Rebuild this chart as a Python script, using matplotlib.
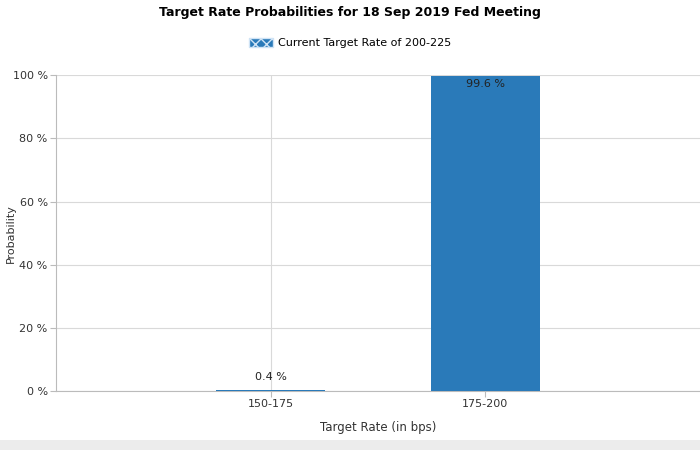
import matplotlib
matplotlib.use('Agg')
import matplotlib.pyplot as plt
from matplotlib.patches import Patch

# data
categories = ['150-175', '175-200']
probabilities = [0.4, 99.6]
labels = ['0.4 %', '99.6 %']
y_ticks = [0, 20, 40, 60, 80, 100]

blue = '#2a7ab9'
grid_c = '#d9d9d9'

fig = plt.figure(figsize=(7, 4.5), dpi=100)
ax = fig.add_axes([0.08, 0.131, 0.92, 0.702])

x = list(range(len(categories)))
ax.bar(x, probabilities, width=0.51, color=blue, zorder=3)

for xi, p, lab in zip(x, probabilities, labels):
    if p > 50:
        ax.text(xi, p - 0.8, lab, ha='center', va='top', fontsize=8, color='#222222', zorder=4)
    else:
        ax.text(xi, p + 2.5, lab, ha='center', va='bottom', fontsize=8, color='#222222', zorder=4)

ax.set_xlim(-1, 2)
ax.set_ylim(0, 100)
ax.set_xticks(x)
ax.set_xticklabels(categories)
ax.set_yticks(y_ticks)
ax.set_yticklabels([f'{t} %' for t in y_ticks])
ax.tick_params(labelsize=8, colors='#333333', length=4, color='#bbbbbb', pad=2)
ax.grid(True, color=grid_c, linewidth=0.8, zorder=0)
for s in ['top', 'right']:
    ax.spines[s].set_visible(False)
for s in ['left', 'bottom']:
    ax.spines[s].set_color('#bbbbbb')

ax.set_xlabel('Target Rate (in bps)', fontsize=8.5, color='#333333')
ax.set_ylabel('Probability', fontsize=8, color='#333333')
ax.yaxis.set_label_coords(-0.063, 0.5)
ax.xaxis.set_label_coords(0.5, -0.095)

fig.text(0.5, 0.972, 'Target Rate Probabilities for 18 Sep 2019 Fed Meeting',
         ha='center', va='center', fontsize=9, fontweight='bold')

handle = Patch(facecolor='#2a7ab9', edgecolor='#cfe3f5', hatch='xxx', label='Current Target Rate of 200-225')
fig.legend(handles=[handle], loc='center', bbox_to_anchor=(0.5, 0.905), frameon=False,
           fontsize=8, handlelength=2.2, handleheight=0.9, handletextpad=0.4)

# grey strip at the bottom
fig.patches.append(plt.Rectangle((0, 0), 1, 0.022, transform=fig.transFigure,
                                 facecolor='#ececec', edgecolor='none'))

fig.savefig('out.png', dpi=100)
